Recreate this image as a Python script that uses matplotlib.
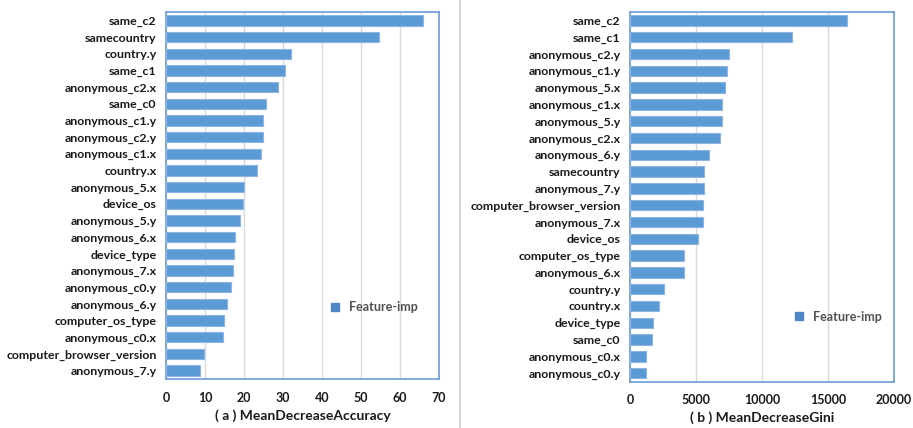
import matplotlib
matplotlib.use("Agg")
import matplotlib.pyplot as plt
from matplotlib.lines import Line2D

plt.rcParams['font.family'] = ['Lato', 'DejaVu Sans']

acc_features = ["same_c2", "samecountry", "country.y", "same_c1", "anonymous_c2.x",
                "same_c0", "anonymous_c1.y", "anonymous_c2.y", "anonymous_c1.x",
                "country.x", "anonymous_5.x", "device_os", "anonymous_5.y",
                "anonymous_6.x", "device_type", "anonymous_7.x", "anonymous_c0.y",
                "anonymous_6.y", "computer_os_type", "anonymous_c0.x",
                "computer_browser_version", "anonymous_7.y"]
acc_values = [65.9, 54.6, 32.1, 30.5, 28.8, 25.5, 24.9, 24.9, 24.4, 23.3, 20.0,
              19.7, 18.9, 17.7, 17.5, 17.2, 16.6, 15.6, 14.7, 14.5, 9.7, 8.7]

gini_features = ["same_c2", "same_c1", "anonymous_c2.y", "anonymous_c1.y",
                 "anonymous_5.x", "anonymous_c1.x", "anonymous_5.y", "anonymous_c2.x",
                 "anonymous_6.y", "samecountry", "anonymous_7.y",
                 "computer_browser_version", "anonymous_7.x", "device_os",
                 "computer_os_type", "anonymous_6.x", "country.y", "country.x",
                 "device_type", "same_c0", "anonymous_c0.x", "anonymous_c0.y"]
gini_values = [16400, 12230, 7490, 7310, 7150, 6920, 6920, 6830, 5990, 5590, 5590,
               5510, 5510, 5100, 4110, 4110, 2560, 2160, 1730, 1650, 1170, 1170]

acc_ticks = [0, 10, 20, 30, 40, 50, 60, 70]
gini_ticks = [0, 5000, 10000, 15000, 20000]

BAR = "#5b9bd5"
EDGE = "#8db4e2"
GRID = "#d9d9d9"
FRAME = "#6b9bd8"
TEXT = "#1a1a1a"

W, H = 913, 428
fig = plt.figure(figsize=(W / 100, H / 100), dpi=100)


def panel(rect, names, vals, ticks, xlabel, legend_xy, xlabel_y):
    ax = fig.add_axes(rect)
    ypos = list(range(len(names)))
    ax.barh(ypos, vals, height=0.62, color=BAR, edgecolor=EDGE, linewidth=0.8, zorder=3)
    ax.set_ylim(len(names) - 0.5, -0.5)
    ax.set_xlim(ticks[0], ticks[-1])
    ax.set_xticks(ticks)
    ax.set_xticklabels([str(t) for t in ticks], fontsize=9, fontweight='bold', color=TEXT)
    ax.set_yticks(ypos)
    ax.set_yticklabels(names, fontsize=8.9, fontweight='bold', color=TEXT)
    ax.tick_params(length=0, pad=7)
    ax.tick_params(axis='x', pad=9)
    ax.grid(axis='x', color=GRID, linewidth=1, zorder=0)
    for s in ax.spines.values():
        s.set_color(FRAME)
        s.set_linewidth(1.2)
    handle = Line2D([], [], marker='s', linestyle='none', markersize=6,
                    markerfacecolor="#4f86c6", markeredgecolor="#4f86c6")
    ax.legend([handle], ["Feature-imp"], loc='center left', bbox_to_anchor=legend_xy,
              frameon=False, handletextpad=0.1, borderaxespad=0,
              prop={'size': 9, 'weight': 'bold'}, labelcolor="#505050")
    fig.text(rect[0] + rect[2] / 2, xlabel_y, xlabel, ha='center', va='center',
             fontsize=10, fontweight='bold', color=TEXT)
    return ax


def frect(x0, y0, x1, y1):
    return [x0 / W, 1 - y1 / H, (x1 - x0) / W, (y1 - y0) / H]


panel(frect(166.3, 12, 438.7, 379), acc_features, acc_values, acc_ticks,
      "( a ) MeanDecreaseAccuracy", (0.555, 0.195), 1 - 416 / H)
panel(frect(630.3, 12, 894, 381.5), gini_features, gini_values, gini_ticks,
      "( b ) MeanDecreaseGini", (0.575, 0.175), 1 - 418 / H)

# divider between the two panels
fig.add_artist(Line2D([460 / W, 460 / W], [0, 1], color="#d0d0d0", linewidth=1.2,
                      transform=fig.transFigure))

fig.savefig("out.png", dpi=100)
